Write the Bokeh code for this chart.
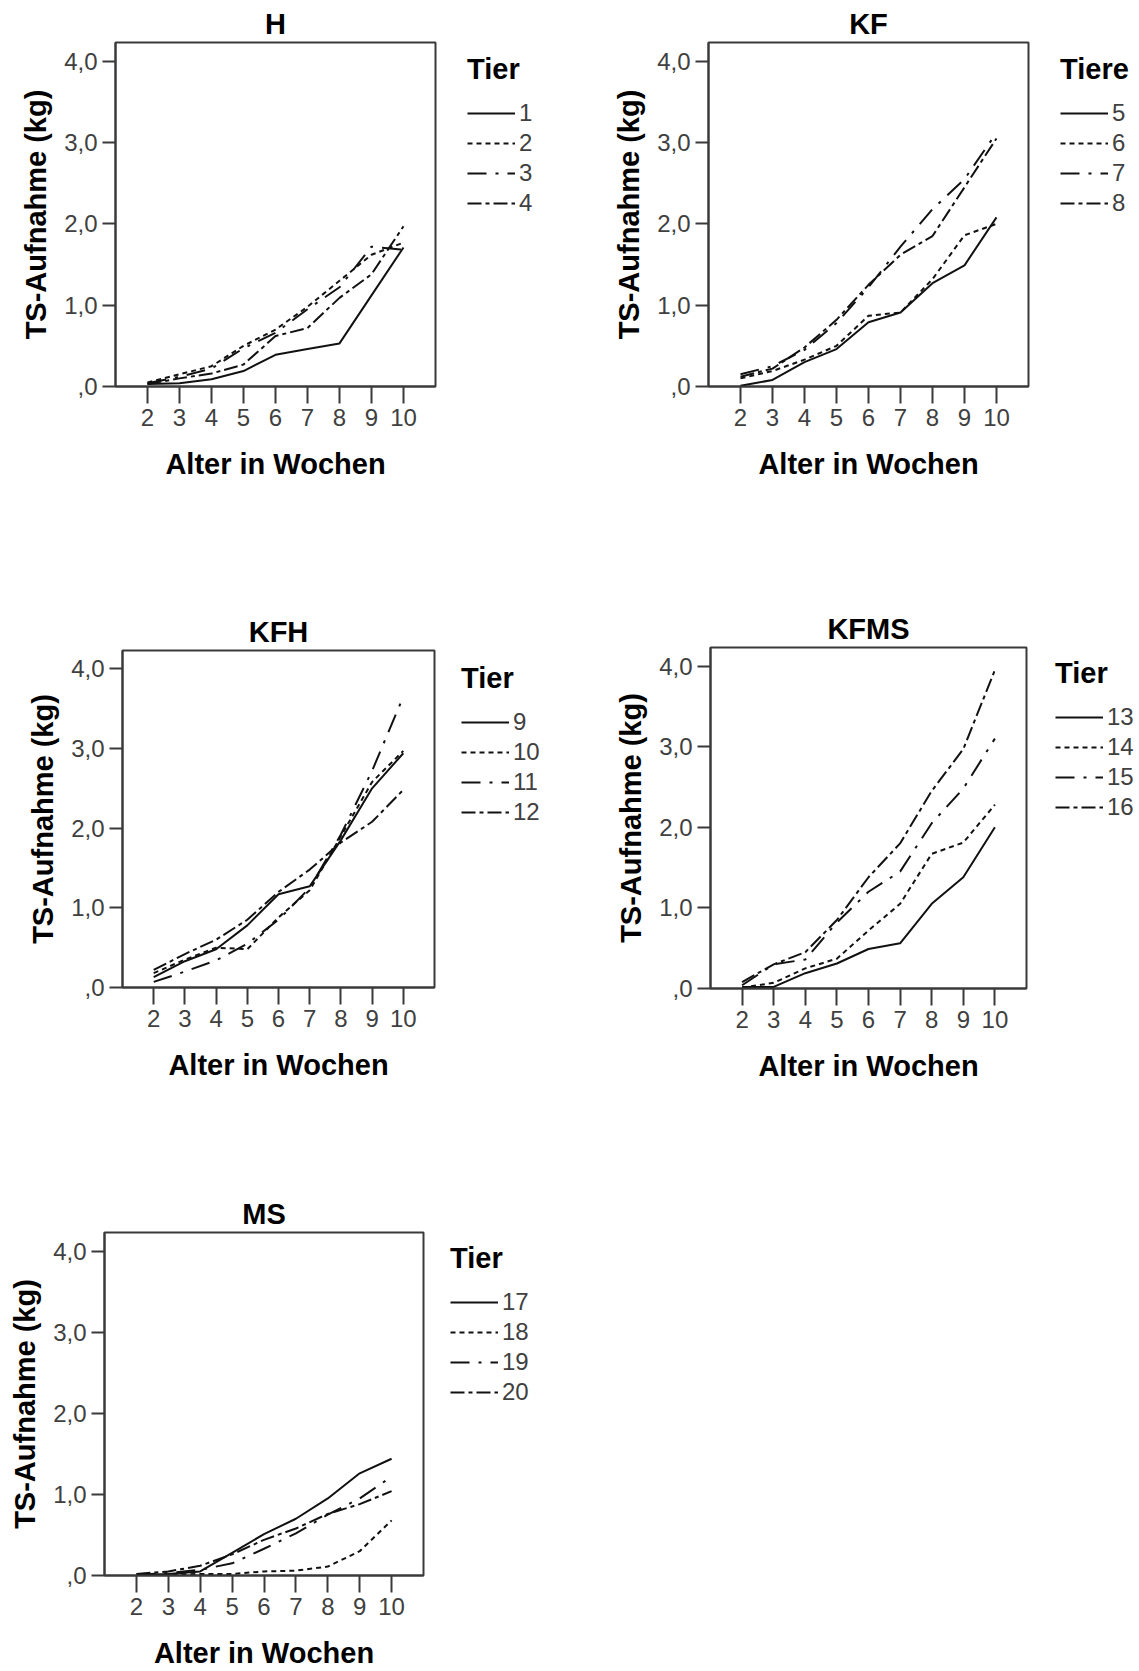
from bokeh.plotting import figure
from bokeh.models import Range1d, FixedTicker, Legend, LegendItem
from bokeh.layouts import column, row
from bokeh.embed import file_html
from bokeh.resources import INLINE

# ---------------- data ----------------
weeks = [2, 3, 4, 5, 6, 7, 8, 9, 10]
x_tick_labels = ["2", "3", "4", "5", "6", "7", "8", "9", "10"]
y_ticks = [0, 1, 2, 3, 4]
y_tick_labels = [",0", "1,0", "2,0", "3,0", "4,0"]

# Gruppe H (Tier 1-4)
h_names = ["1", "2", "3", "4"]
h_1 = [0.03, 0.04, 0.09, 0.19, 0.39, 0.46, 0.53, 1.12, 1.71]
h_2 = [0.05, 0.15, 0.25, 0.50, 0.70, 0.98, 1.30, 1.62, 1.77]
h_3 = [0.04, 0.12, 0.22, 0.47, 0.66, 0.95, 1.22, 1.72, 1.68]
h_4 = [0.03, 0.10, 0.16, 0.27, 0.62, 0.72, 1.09, 1.38, 1.97]

# Gruppe KF (Tiere 5-8)
kf_names = ["5", "6", "7", "8"]
kf_5 = [0.01, 0.08, 0.30, 0.46, 0.79, 0.91, 1.27, 1.49, 2.08]
kf_6 = [0.10, 0.19, 0.33, 0.50, 0.87, 0.91, 1.32, 1.86, 2.00]
kf_7 = [0.15, 0.25, 0.45, 0.78, 1.22, 1.72, 2.18, 2.55, 3.12]
kf_8 = [0.12, 0.22, 0.48, 0.82, 1.25, 1.62, 1.85, 2.45, 3.05]

# Gruppe KFH (Tier 9-12)
kfh_names = ["9", "10", "11", "12"]
kfh_9 = [0.13, 0.33, 0.48, 0.78, 1.17, 1.27, 1.85, 2.50, 2.94]
kfh_10 = [0.18, 0.35, 0.50, 0.48, 0.88, 1.22, 1.90, 2.58, 2.97]
kfh_11 = [0.07, 0.20, 0.34, 0.55, 0.85, 1.25, 1.92, 2.72, 3.65]
kfh_12 = [0.22, 0.42, 0.60, 0.85, 1.20, 1.48, 1.82, 2.08, 2.48]

# Gruppe KFMS (Tier 13-16)
kfms_names = ["13", "14", "15", "16"]
kfms_13 = [0.02, 0.02, 0.19, 0.31, 0.49, 0.56, 1.05, 1.38, 2.00]
kfms_14 = [0.01, 0.07, 0.25, 0.37, 0.72, 1.05, 1.67, 1.81, 2.28]
kfms_15 = [0.04, 0.30, 0.36, 0.82, 1.20, 1.45, 2.05, 2.48, 3.10]
kfms_16 = [0.08, 0.30, 0.45, 0.85, 1.38, 1.80, 2.45, 2.97, 3.95]

# Gruppe MS (Tier 17-20)
ms_names = ["17", "18", "19", "20"]
ms_17 = [0.01, 0.02, 0.05, 0.28, 0.51, 0.70, 0.95, 1.26, 1.44]
ms_18 = [0.00, 0.01, 0.02, 0.02, 0.05, 0.06, 0.11, 0.30, 0.68]
ms_19 = [0.01, 0.03, 0.07, 0.15, 0.33, 0.52, 0.75, 0.95, 1.22]
ms_20 = [0.02, 0.05, 0.12, 0.26, 0.44, 0.58, 0.76, 0.88, 1.04]

# ---------------- style ----------------
BOLD_FONT = "Liberation Sans"
TICK_FONT = "Liberation Sans"
DASHES = ["solid", "5 4", "19 9 3 9", "14 4 4 4"]
LINE_COLOR = "#111111"
FRAME_COLOR = "#3a3a3a"
LABEL_COLOR = "#404040"
RIGHT_PAD = 5


def make_panel(title, legend_title, names, series, W, H, left, top, fw, fh,
               leg_gap, leg_bottom):
    pw = left + fw + RIGHT_PAD
    p = figure(width=pw, height=H, output_backend="svg", toolbar_location=None,
               x_range=Range1d(1, 11), y_range=Range1d(0, 4.23),
               min_border_left=left, min_border_top=top,
               min_border_right=RIGHT_PAD,
               min_border_bottom=H - top - fh)
    p.title.text = title
    p.title.align = "center"
    p.title.text_font = BOLD_FONT
    p.title.text_font_size = "29px"
    p.title.text_font_style = "bold"
    p.title.text_color = "black"
    p.title.standoff = 6

    p.xgrid.visible = False
    p.ygrid.visible = False
    p.background_fill_color = "white"
    p.border_fill_color = "white"
    p.outline_line_color = FRAME_COLOR
    p.outline_line_width = 2

    xa = p.xaxis[0]
    xa.ticker = FixedTicker(ticks=weeks)
    xa.major_label_overrides = dict(zip(weeks, x_tick_labels))
    xa.major_tick_in = 0
    xa.major_tick_out = 17
    xa.minor_tick_out = 0
    xa.minor_tick_in = 0
    xa.axis_line_color = FRAME_COLOR
    xa.axis_line_width = 2
    xa.major_tick_line_color = FRAME_COLOR
    xa.major_tick_line_width = 2
    xa.major_label_text_font = TICK_FONT
    xa.major_label_text_font_size = "24px"
    xa.major_label_text_color = LABEL_COLOR
    xa.major_label_standoff = 5
    xa.axis_label = "Alter in Wochen"
    xa.axis_label_text_font = BOLD_FONT
    xa.axis_label_text_font_size = "29px"
    xa.axis_label_text_font_style = "bold"
    xa.axis_label_text_color = "black"
    xa.axis_label_standoff = 19

    ya = p.yaxis[0]
    ya.ticker = FixedTicker(ticks=y_ticks)
    ya.major_label_overrides = dict(zip(y_ticks, y_tick_labels))
    ya.major_tick_in = 0
    ya.major_tick_out = 13
    ya.minor_tick_out = 0
    ya.minor_tick_in = 0
    ya.axis_line_color = FRAME_COLOR
    ya.axis_line_width = 2
    ya.major_tick_line_color = FRAME_COLOR
    ya.major_tick_line_width = 2
    ya.major_label_text_font = TICK_FONT
    ya.major_label_text_font_size = "24px"
    ya.major_label_text_color = LABEL_COLOR
    ya.major_label_standoff = 5
    ya.axis_label = "TS-Aufnahme (kg)"
    ya.axis_label_text_font = BOLD_FONT
    ya.axis_label_text_font_size = "29px"
    ya.axis_label_text_font_style = "bold"
    ya.axis_label_text_color = "black"
    ya.axis_label_standoff = 9

    for vals, dash in zip(series, DASHES):
        p.line(weeks, vals, line_color=LINE_COLOR, line_width=2,
               line_dash=dash)

    # legend panel: a separate figure whose frame is aligned with the plot
    # frame; its own copies of the series lie outside its visible range, so
    # only the legend is seen.
    lw = W - pw
    lp = figure(width=lw, height=H, output_backend="svg", toolbar_location=None,
                x_range=Range1d(-2, -1), y_range=Range1d(-2, -1),
                x_axis_location=None, y_axis_location=None, min_border=0)
    lp.outline_line_color = None
    lp.xgrid.visible = False
    lp.ygrid.visible = False
    lp.border_fill_color = "white"
    items = []
    for name, vals, dash in zip(names, series, DASHES):
        r = lp.line(weeks, vals, line_color=LINE_COLOR, line_width=2,
                    line_dash=dash)
        items.append(LegendItem(label=name, renderers=[r]))
    leg = Legend(items=items,
                 location=(leg_gap - RIGHT_PAD, top + fh - leg_bottom),
                 title=legend_title)
    leg.title_text_font = BOLD_FONT
    leg.title_text_font_size = "29px"
    leg.title_text_font_style = "bold"
    leg.title_text_color = "black"
    leg.title_standoff = 12
    leg.label_text_font = TICK_FONT
    leg.label_text_font_size = "24px"
    leg.label_text_color = LABEL_COLOR
    leg.label_standoff = 4
    leg.glyph_width = 48
    leg.glyph_height = 30
    leg.label_height = 30
    leg.spacing = 0
    leg.padding = 0
    leg.margin = 0
    leg.border_line_color = None
    leg.background_fill_alpha = 0
    lp.add_layout(leg, "center")
    return row(p, lp)


pH = make_panel("H", "Tier", h_names, [h_1, h_2, h_3, h_4],
                590, 590, 115, 42, 320, 344, 32, 218)
pKF = make_panel("KF", "Tiere", kf_names, [kf_5, kf_6, kf_7, kf_8],
                 549, 590, 118, 42, 320, 344, 32, 218)
pKFH = make_panel("KFH", "Tier", kfh_names, [kfh_9, kfh_10, kfh_11, kfh_12],
                  590, 590, 122, 60, 312, 337, 27, 237)
pKFMS = make_panel("KFMS", "Tier", kfms_names, [kfms_13, kfms_14, kfms_15, kfms_16],
                   549, 590, 120, 57, 316, 341, 29, 232)
pMS = make_panel("MS", "Tier", ms_names, [ms_17, ms_18, ms_19, ms_20],
                 590, 491, 104, 52, 319, 343, 27, 227)

layout = column(row(pH, pKF), row(pKFH, pKFMS), row(pMS))

with open("out.html", "w") as f:
    f.write(file_html(layout, INLINE))
